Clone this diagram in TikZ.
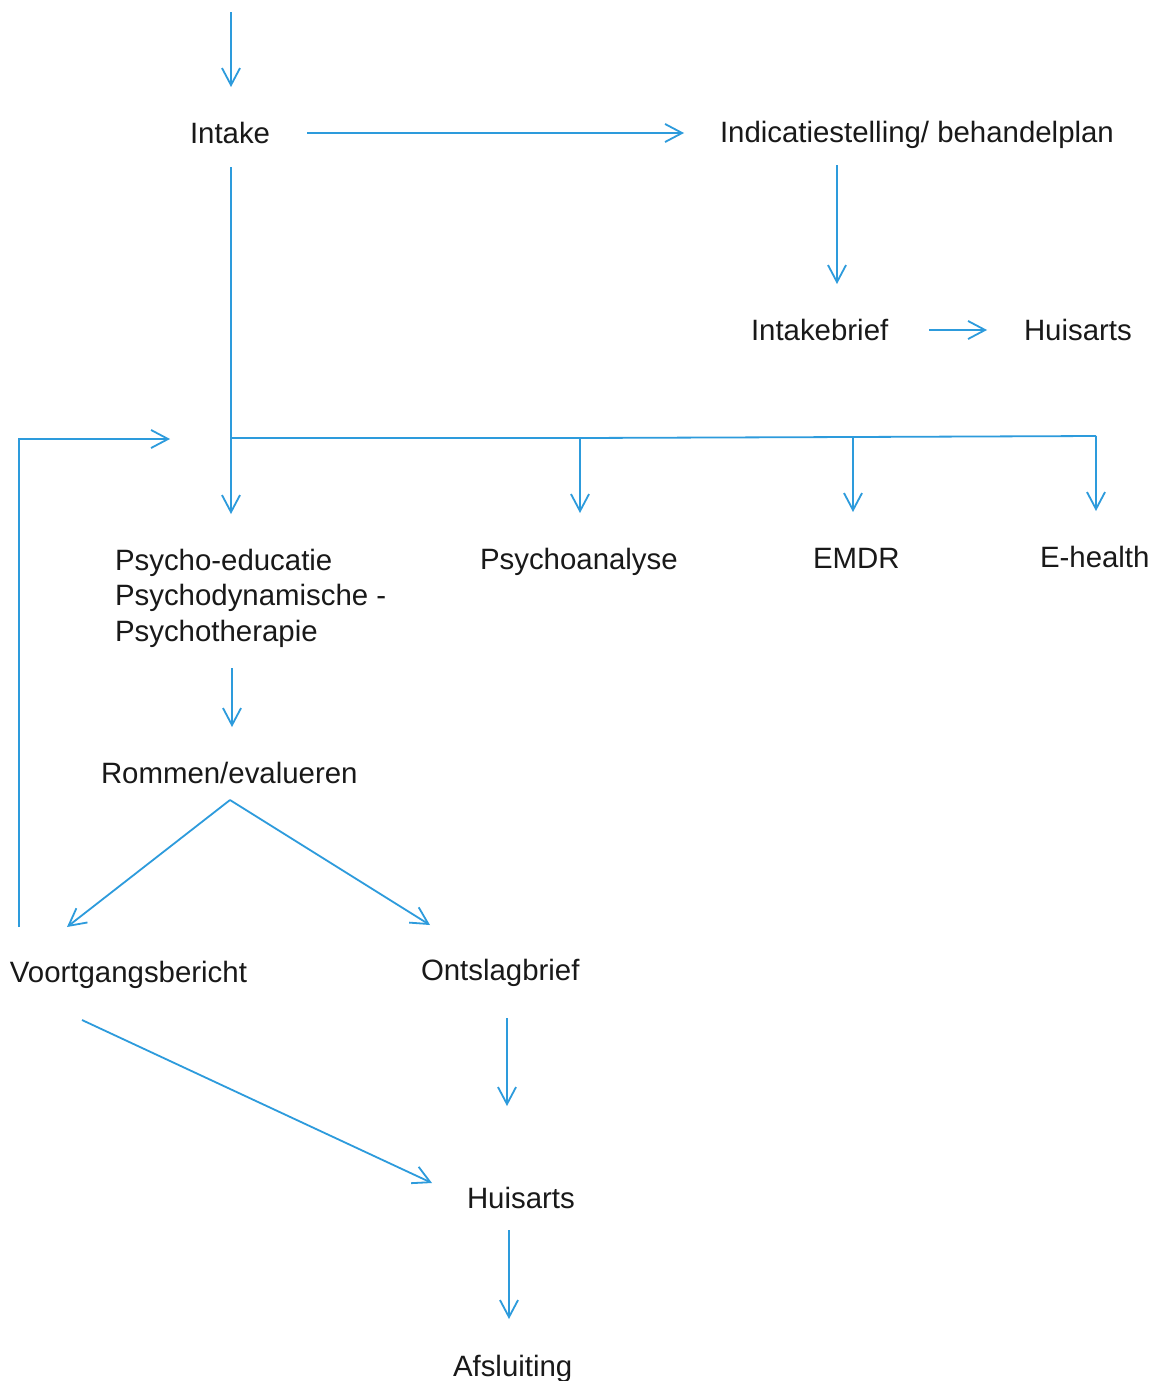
\documentclass[tikz,border=0pt]{standalone}
\usepackage{fontspec}
\setmainfont{Liberation Sans}
\usetikzlibrary{arrows.meta}
\definecolor{flowblue}{RGB}{45,155,220}
\tikzset{
  lbl/.style={inner sep=0pt, outer sep=0pt, anchor=base west, font=\fontsize{14.7pt}{17.75pt}\selectfont, text=black!90},
  conn/.style={draw=flowblue, line width=0.9pt},
  arr/.style={conn, -{Straight Barb[length=8.5pt,width=9pt,line width=0.9pt]}}
}
\begin{document}
\begin{tikzpicture}[x=0.5pt,y=-0.5pt]
\useasboundingbox (0,0) rectangle (1154,1381);
\fill[white] (0,0) rectangle (1154,1381);
% text nodes
\node[lbl] (intake) at (190,143) {Intake};
\node[lbl] (indic) at (720,142) {Indicatiestelling/ behandelplan};
\node[lbl] (ibrief) at (751,340) {Intakebrief};
\node[lbl] (huis1) at (1024,340) {Huisarts};
\node[lbl, align=left] (psy) at (115,641) {Psycho-educatie\\Psychodynamische -\\Psychotherapie};
\node[lbl] (pana) at (480,569) {Psychoanalyse};
\node[lbl] (emdr) at (813,568) {EMDR};
\node[lbl] (eh) at (1040,567) {E-health};
\node[lbl] (rom) at (101,783) {Rommen/evalueren};
\node[lbl] (voort) at (10,982) {Voortgangsbericht};
\node[lbl] (ontsl) at (421,980) {Ontslagbrief};
\node[lbl] (huis2) at (467,1208) {Huisarts};
\node[lbl] (afs) at (453,1376) {Afsluiting};
% connector coordinates
\coordinate (top) at (231,12);
\coordinate (intakeIn) at (231,87);
\coordinate (intakeR) at (307,133);
\coordinate (indicL) at (684,133);
\coordinate (indicB) at (837,165);
\coordinate (ibriefT) at (837,284);
\coordinate (ibriefR) at (929,330);
\coordinate (huis1L) at (987,330);
\coordinate (intakeB) at (231,167);
\coordinate (bus0) at (231,438);
\coordinate (psyT) at (231,514);
\coordinate (bus1) at (580,438);
\coordinate (panaT) at (580,513);
\coordinate (bus2) at (853,437);
\coordinate (emdrT) at (853,512);
\coordinate (bus3) at (1096,436);
\coordinate (ehT) at (1096,511);
\coordinate (psyB) at (232,668);
\coordinate (romT) at (232,727);
\coordinate (apex) at (230,800);
\coordinate (voortT) at (67,927);
\coordinate (ontslT) at (430,925);
\coordinate (fbStart) at (19,927);
\coordinate (fbCorner) at (19,439);
\coordinate (fbEnd) at (170,439);
\coordinate (ontslB) at (507,1018);
\coordinate (huis2T) at (507,1106);
\coordinate (voortB) at (82,1020);
\coordinate (huis2L) at (432,1183);
\coordinate (huis2B) at (509,1230);
\coordinate (afsT) at (509,1319);
% connectors
\draw[arr] (top) -- (intakeIn);
\draw[arr] (intakeR) -- (indicL);
\draw[arr] (indicB) -- (ibriefT);
\draw[arr] (ibriefR) -- (huis1L);
\draw[arr] (intakeB) -- (psyT);
\draw[conn] (bus0) -- (bus1) -- (bus2) -- (bus3);
\draw[arr] (bus1) -- (panaT);
\draw[arr] (bus2) -- (emdrT);
\draw[arr] (bus3) -- (ehT);
\draw[arr] (psyB) -- (romT);
\draw[arr] (apex) -- (voortT);
\draw[arr] (apex) -- (ontslT);
\draw[arr] (fbStart) -- (fbCorner) -- (fbEnd);
\draw[arr] (ontslB) -- (huis2T);
\draw[arr] (voortB) -- (huis2L);
\draw[arr] (huis2B) -- (afsT);
\end{tikzpicture}
\end{document}
